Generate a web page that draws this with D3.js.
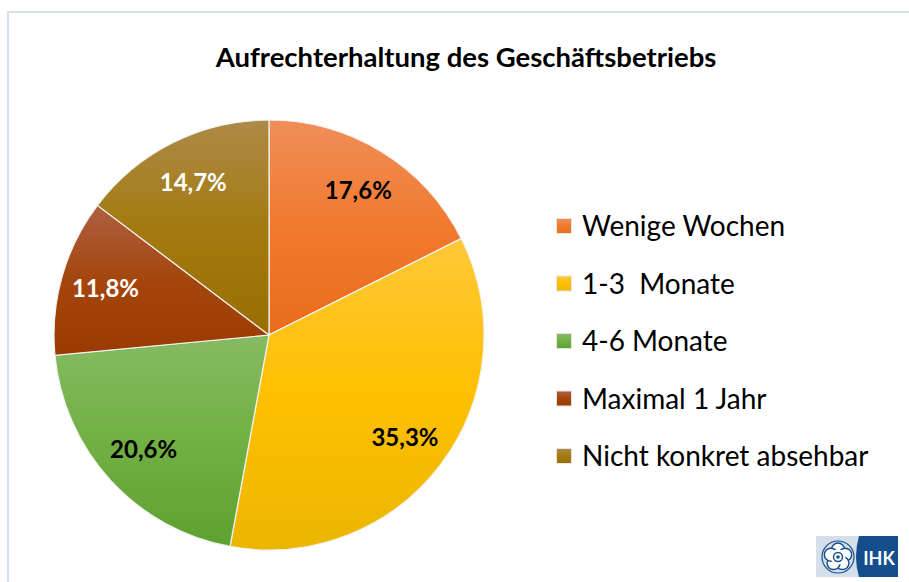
<!DOCTYPE html>
<html>
<head>
<meta charset="utf-8">
<script src="https://cdn.jsdelivr.net/npm/d3@7"></script>
<style>
  html, body { margin: 0; padding: 0; background: #fff; }
  svg { display: block; }
  text { font-family: Lato, "Open Sans", sans-serif; }
</style>
</head>
<body>
<svg id="chart" width="909" height="582"></svg>
<script>
// chart data
const categories = ['Wenige Wochen', '1-3  Monate', '4-6 Monate', 'Maximal 1 Jahr', 'Nicht konkret absehbar'];
const values = [17.6, 35.3, 20.6, 11.8, 14.7];
const valueLabels = ['17,6%', '35,3%', '20,6%', '11,8%', '14,7%'];
const colorsTop = ['#F08E58', '#FFC838', '#85BB63', '#AE6042', '#AD8A48'];
const colorsMid = ['#F07A2E', '#FFC000', '#72B043', '#A4460C', '#A37A10'];
const colorsBottom = ['#EA6C1A', '#EBB600', '#5EA12F', '#9B3A00', '#996E00'];
const labelColors = ['#000', '#000', '#000', '#fff', '#fff'];

const title = 'Aufrechterhaltung des Geschäftsbetriebs';

const svg = d3.select('#chart');
const defs = svg.append('defs');

// frame
svg.append('path')
    .attr('d', 'M8,590 V12 H920')
    .attr('fill', 'none')
    .attr('stroke', '#D6E0EC')
    .attr('stroke-width', 2);

svg.append('text')
    .attr('x', 466)
    .attr('y', 67)
    .attr('text-anchor', 'middle')
    .attr('font-size', 27.5)
    .attr('font-weight', 'bold')
    .attr('fill', '#000')
    .text(title);

// gradients, one per category (top lighter, bottom darker)
categories.forEach((c, i) => {
    const lg = defs.append('linearGradient')
        .attr('id', `grad${i}`)
        .attr('x1', 0).attr('y1', 0).attr('x2', 0).attr('y2', 1);
    lg.append('stop').attr('offset', '0%').attr('stop-color', colorsTop[i]);
    lg.append('stop').attr('offset', '50%').attr('stop-color', colorsMid[i]);
    lg.append('stop').attr('offset', '100%').attr('stop-color', colorsBottom[i]);
});

const cx = 269, cy = 335, radius = 215;
const data = categories.map((c, i) => ({ category: c, value: values[i], label: valueLabels[i], i }));

const pie = d3.pie().sort(null).value(d => d.value);
const arc = d3.arc().innerRadius(0).outerRadius(radius);
const labelArc = d3.arc().innerRadius(170).outerRadius(170);

const g = svg.append('g').attr('transform', `translate(${cx}, ${cy})`);

const slices = g.selectAll('.arc')
    .data(pie(data))
    .enter().append('g')
    .attr('class', 'arc');

slices.append('path')
    .attr('d', arc)
    .attr('fill', d => `url(#grad${d.data.i})`)
    .attr('stroke', '#F2F2F2')
    .attr('stroke-width', 1.2);

slices.append('text')
    .attr('transform', d => `translate(${labelArc.centroid(d)})`)
    .attr('text-anchor', 'middle')
    .attr('dy', '0.36em')
    .attr('font-size', 24)
    .attr('font-weight', 'bold')
    .attr('fill', d => labelColors[d.data.i])
    .text(d => d.data.label);

// legend
const legendY = d3.scalePoint().domain(categories).range([226, 456]);
const legend = svg.append('g');
const items = legend.selectAll('.item')
    .data(data)
    .enter().append('g')
    .attr('class', 'item')
    .attr('transform', d => `translate(556, ${legendY(d.category)})`);

items.append('rect')
    .attr('x', 0.5).attr('y', -7.5)
    .attr('width', 15).attr('height', 15)
    .attr('fill', d => `url(#grad${d.i})`)
    .attr('stroke', '#E6E6E6')
    .attr('stroke-width', 1);

items.append('text')
    .attr('x', 26)
    .attr('dy', '0.36em')
    .attr('font-size', 28)
    .attr('fill', '#000')
    .style('white-space', 'pre')
    .attr('xml:space', 'preserve')
    .text(d => d.category);

// IHK logo
const logo = svg.append('g').attr('transform', 'translate(816, 536)');
logo.append('rect').attr('width', 82).attr('height', 41).attr('fill', '#D6DFE9');
logo.append('path')
    .attr('d', 'M43,0 H82 V41 H43 Q37,20.5 43,0 Z')
    .attr('fill', '#144E8C');
logo.append('text')
    .attr('x', 63).attr('y', 29)
    .attr('text-anchor', 'middle')
    .attr('font-size', 18)
    .attr('font-weight', 'bold')
    .attr('font-family', 'Roboto, sans-serif')
    .attr('fill', '#fff')
    .text('IHK');
// rose emblem
const rose = logo.append('g').attr('transform', 'translate(22, 21)');
rose.append('circle').attr('r', 16).attr('fill', 'none').attr('stroke', '#144E8C').attr('stroke-width', 1.2);
d3.range(5).forEach(k => {
    const a = (k * 72 - 90) * Math.PI / 180;
    rose.append('circle')
        .attr('cx', Math.cos(a) * 7.5).attr('cy', Math.sin(a) * 7.5)
        .attr('r', 6.5)
        .attr('fill', '#fff')
        .attr('stroke', '#144E8C')
        .attr('stroke-width', 1.4);
});
rose.append('circle').attr('r', 7.5).attr('fill', '#fff');
rose.append('circle').attr('r', 4.5).attr('fill', 'none').attr('stroke', '#144E8C').attr('stroke-width', 1.4);
rose.append('circle').attr('r', 1.8).attr('fill', '#144E8C');
</script>
</body>
</html>
